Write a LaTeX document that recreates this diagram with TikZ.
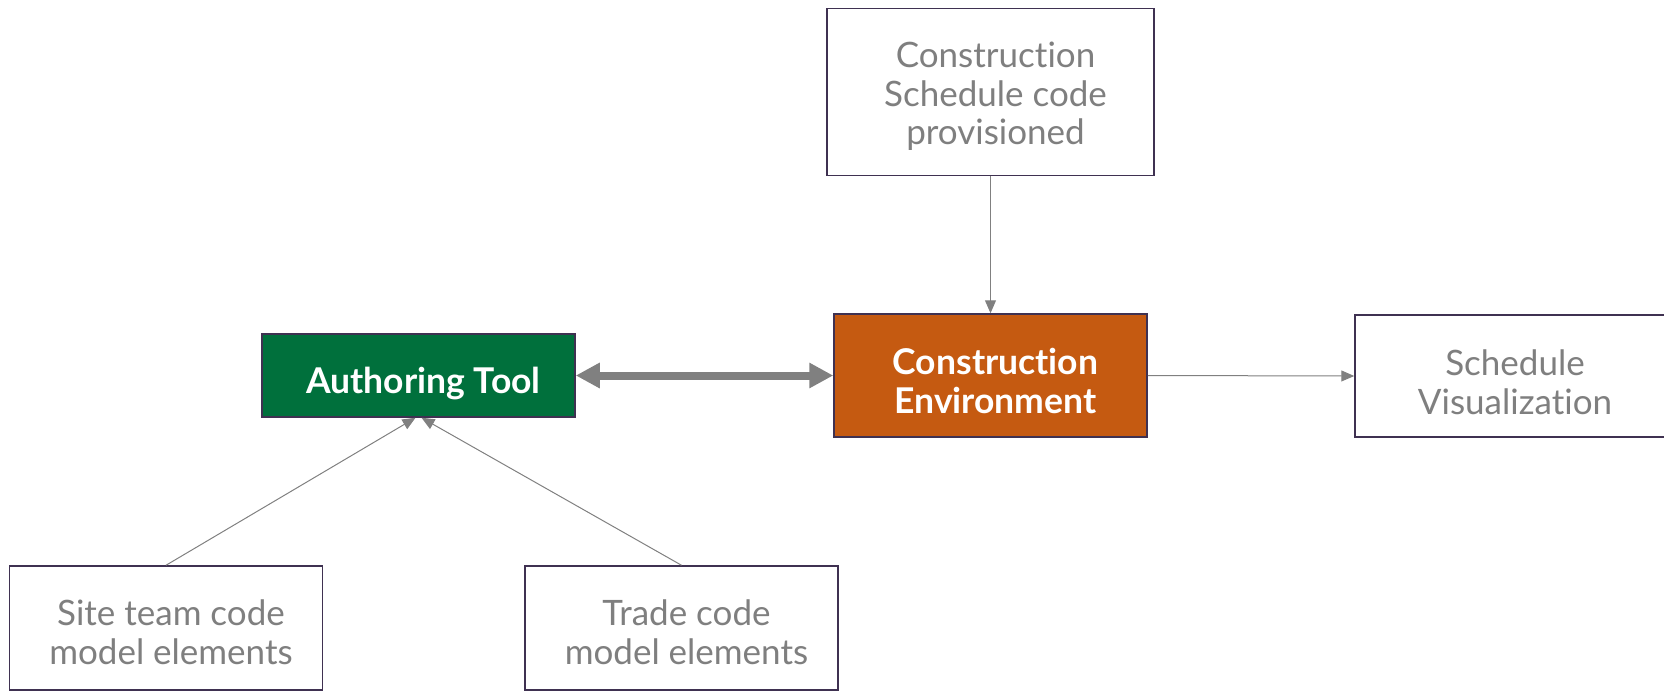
\documentclass[tikz,border=0pt]{standalone}
\usepackage{fontspec}
\setmainfont{Lato}[Ligatures=NoCommon]
\usetikzlibrary{arrows.meta}
\definecolor{boxline}{HTML}{3F3151}
\definecolor{toolgreen}{HTML}{00703C}
\definecolor{envorange}{HTML}{C55A11}
\definecolor{txtgray}{HTML}{7F7F7F}
\definecolor{arrgray}{HTML}{808080}
% lower and nudge a box text a little
\newcommand\boxtext[2]{\raisebox{-#1}[\height][\depth]{\hspace*{10pt}\begin{tabular}{@{}c@{}}#2\end{tabular}}}
\begin{document}
\begin{tikzpicture}[x=1pt,y=-1pt,cap=butt,
  plainbox/.style={draw=boxline,line width=1.5pt,fill=white,inner sep=0pt,align=center,
    text=txtgray,font=\fontsize{35}{38.7}\selectfont},
  solidbox/.style={plainbox,text=white,font=\bfseries\fontsize{35.5}{38.7}\selectfont},
  thinarrow/.style={draw=arrgray,line width=1pt,-{Triangle[length=13pt,width=11pt]}},
  thickarrow/.style={draw=arrgray,line width=8pt,{Triangle[length=24pt,width=24pt]}-{Triangle[length=24pt,width=24pt]}}]
  \clip (0,0) rectangle (1664,691);

  % Boxes
  \node[plainbox,minimum width=327pt,minimum height=167pt] (code) at (990.5,92) {\boxtext{6.5pt}{Construction\\Schedule code\\provisioned}};
  \node[solidbox,fill=envorange,minimum width=313pt,minimum height=123pt] (env) at (990.5,375.5) {\boxtext{10.5pt}{Construction\\Environment}};
  \node[solidbox,fill=toolgreen,minimum width=313pt,minimum height=83pt] (tool) at (418.5,375.5) {\boxtext{10pt}{Authoring Tool}};
  \node[plainbox,minimum width=400pt,minimum height=122pt] (vis) at (1555,376) {};
  \node[txtgray,align=center,font=\fontsize{35}{38.7}\selectfont] (vistext) at (1515,382.5) {Schedule\\Visualization};
  \node[plainbox,minimum width=313pt,minimum height=124pt] (site) at (166,628) {\boxtext{9.5pt}{Site team code\\model elements}};
  \node[plainbox,minimum width=313pt,minimum height=124pt] (trade) at (681.5,628) {\boxtext{9.5pt}{Trade code\\model elements}};

  % Arrows
  \draw[thinarrow] (code.south) -- (env.north);
  \draw[thickarrow] (tool.east) -- (env.west);
  \draw[thinarrow] (env.east) -- (vis.west);
  \draw[thinarrow] (site.north) -- ([xshift=-3pt]tool.south);
  \draw[thinarrow] (trade.north) -- ([xshift=3pt]tool.south);
\end{tikzpicture}
\end{document}
